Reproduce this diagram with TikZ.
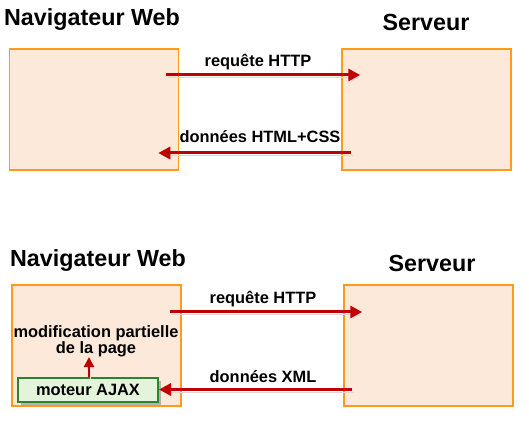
\documentclass[tikz,border=0pt]{standalone}
\usepackage{fontspec}
\setmainfont{Liberation Sans}
\usetikzlibrary{arrows.meta,calc}

\definecolor{paneorange}{HTML}{FF9A1A}
\definecolor{panefill}{HTML}{FDE9DA}
\definecolor{msgred}{HTML}{C00000}
\definecolor{ajaxgreen}{HTML}{2A852A}
\definecolor{ajaxfill}{HTML}{E4F4DA}

\tikzset{
  pane/.style={draw=paneorange, fill=panefill, line width=1.5pt, inner sep=0pt,
    minimum width=169pt, minimum height=121pt},
  title/.style={font=\fontsize{23.3}{25}\selectfont\bfseries, anchor=base, inner sep=0pt},
  lbl/.style={font=\fontsize{16.4}{14.5}\selectfont\bfseries, anchor=base, inner sep=0pt},
  msg/.style={draw=msgred, line width=3pt, -{Triangle[length=12pt,width=12pt]},
    preaction={draw=black!15, transform canvas={shift={(1.5pt,-2.5pt)}}}},
  engine/.style={draw=ajaxgreen, fill=ajaxfill, line width=2pt, inner sep=0pt,
    minimum width=140pt, minimum height=24pt,
    preaction={fill=black!30, transform canvas={shift={(3pt,-3pt)}}}},
}

\begin{document}
\begin{tikzpicture}[x=1pt,y=1pt]
  \useasboundingbox (0,0) rectangle (529,420);

  % classic exchange
  \node [title] (nav1) at (92, 394) {Navigateur Web};
  \node [title] (srv1) at (426, 389) {Serveur};
  \node [pane] (client1) at (94, 310.5) {};
  \node [pane] (server1) at (426.5, 310.5) {};
  \node [lbl] (req1) at (258, 353) {requête HTTP};
  \node [lbl] (resp1) at (260, 277) {données HTML+CSS};
  \draw [msg] ([shift={(-13,34.5)}]client1.east) -- ([shift={(19,34.5)}]server1.west);
  \draw [msg] ([shift={(10,-43.5)}]server1.west) -- ([shift={(-21,-43.5)}]client1.east);

  % ajax exchange
  \node [title] (nav2) at (98, 153) {Navigateur Web};
  \node [title] (srv2) at (432, 148) {Serveur};
  \node [pane] (client2) at (96.5, 74.5) {};
  \node [pane] (server2) at (428.5, 74.5) {};
  \node [lbl] (req2) at (263, 116) {requête HTTP};
  \node [lbl] (resp2) at (263, 38) {données XML};
  \node [engine, font=\fontsize{16.4}{14.5}\selectfont\bfseries] (ajax) at (88, 30.5) {moteur AJAX};
  \node [lbl, anchor=center, align=center] (modif) at (96, 79) {modification partielle\\de la page};
  \draw [msg] ([shift={(-12,33.5)}]client2.east) -- ([shift={(19,33.5)}]server2.west);
  \draw [msg] ([shift={(9,0)}]server2.west |- ajax.east) -- (ajax.east);
  \draw [msg, line width=2.4pt, -{Triangle[length=10pt,width=10pt]}] ([xshift=1pt]ajax.north) -- ([xshift=1pt]ajax.north |- modif.south);
\end{tikzpicture}
\end{document}
